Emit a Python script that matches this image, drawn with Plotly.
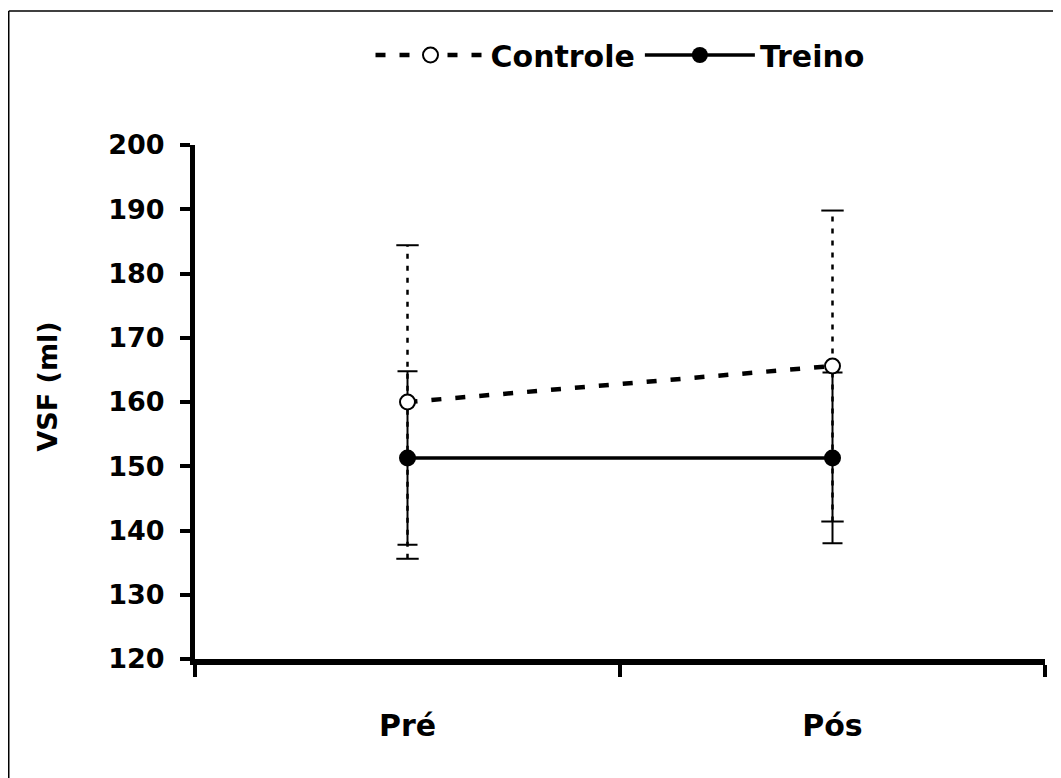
import plotly.graph_objects as go

categories = ["Pré", "Pós"]
controle_mean = [160.0, 165.6]
controle_err = [24.4, 24.2]
treino_mean = [151.3, 151.3]
treino_err = [13.5, 13.3]
y_ticks = [120, 130, 140, 150, 160, 170, 180, 190, 200]

FONT = "DejaVu Sans"
OFF = 8  # page body margin
W, H = 1061 - OFF, 778 - OFF
ML, MR, MT, MB = 195 - OFF, 16, 145 - OFF, 119
PW, PH = W - ML - MR, H - MT - MB

fig = go.Figure()

# Controle error bars (dotted)
ex, ey = [], []
for c, m, e in zip(categories, controle_mean, controle_err):
    ex += [c, c, None]
    ey += [m - e, m + e, None]
fig.add_trace(go.Scatter(x=ex, y=ey, mode="lines", showlegend=False, hoverinfo="skip",
                         line=dict(color="black", width=2.5, dash="5px,7px")))
cx, cy = [], []
for c, m, e in zip(categories, controle_mean, controle_err):
    cx += [c, c]
    cy += [m - e, m + e]
fig.add_trace(go.Scatter(x=cx, y=cy, mode="markers", showlegend=False, hoverinfo="skip",
                         marker=dict(symbol="line-ew", size=16, line=dict(color="black", width=2))))

# Treino
fig.add_trace(go.Scatter(
    x=categories, y=treino_mean, name="Treino", mode="lines+markers",
    line=dict(color="black", width=3.5),
    marker=dict(symbol="circle", size=17, color="black"),
    error_y=dict(type="data", array=treino_err, visible=True, color="black", thickness=2, width=10),
))

# Controle
fig.add_trace(go.Scatter(
    x=categories, y=controle_mean, name="Controle", mode="lines+markers",
    line=dict(color="black", width=4.5, dash="10px,14px"),
    marker=dict(symbol="circle", size=15, color="white", line=dict(color="black", width=2)),
))

fig.update_layout(
    width=W, height=H,
    margin=dict(l=ML, r=MR, t=MT, b=MB),
    plot_bgcolor="white", paper_bgcolor="white",
    font=dict(family=FONT, color="black", weight="bold"),
    legend=dict(orientation="h", x=0.5, xanchor="center", y=1 + (MT - 47) / PH, yanchor="middle",
                font=dict(size=30, family=FONT, weight="bold"), traceorder="reversed",
                itemwidth=110, bgcolor="rgba(0,0,0,0)"),
    xaxis=dict(type="category", categoryorder="array", categoryarray=categories,
               range=[-0.5, 1.5], tickson="boundaries", ticks="outside", ticklen=12,
               tickwidth=4, tickcolor="black", showline=True, linecolor="black", linewidth=6,
               showgrid=False, zeroline=False, ticklabelstandoff=35,
               tickfont=dict(size=30, family=FONT, weight="bold")),
    yaxis=dict(range=[120, 200], tickvals=y_ticks, ticks="outside", ticklen=10, tickwidth=4,
               tickcolor="black", showline=True, linecolor="black", linewidth=5,
               showgrid=False, zeroline=False, ticklabelstandoff=10,
               tickfont=dict(size=27, family=FONT, weight="bold")),
    annotations=[dict(text="VSF (ml)", textangle=-90, x=(48 - 8 - ML) / PW, y=0.53,
                      xref="paper", yref="paper", xanchor="center", yanchor="middle",
                      showarrow=False, font=dict(size=27, family=FONT, weight="bold"))],
    shapes=[
        dict(type="line", xref="paper", yref="paper", x0=(0.75 - ML) / PW, x1=(W - ML) / PW,
             y0=1 + (MT - 3) / PH, y1=1 + (MT - 3) / PH, line=dict(color="black", width=1.5)),
        dict(type="line", xref="paper", yref="paper", x0=(0.75 - ML) / PW, x1=(0.75 - ML) / PW,
             y0=1 + (MT - 3) / PH, y1=-MB / PH, line=dict(color="black", width=1.5)),
    ],
)

fig.write_html("out.html")
